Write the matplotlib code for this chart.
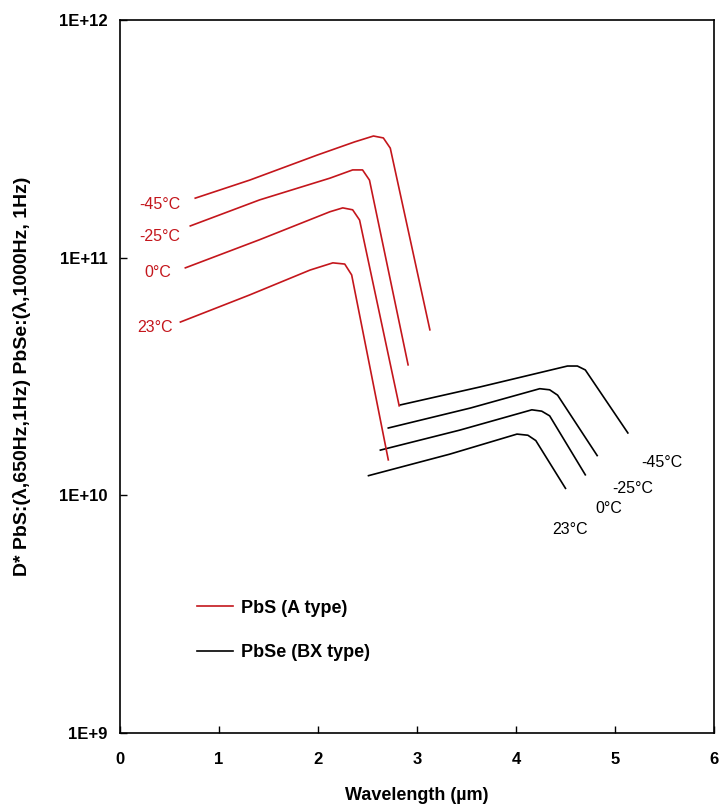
import matplotlib
matplotlib.use("Agg")
import matplotlib.pyplot as plt
from matplotlib.lines import Line2D

plt.rcParams['font.family'] = ['Liberation Sans', 'DejaVu Sans']

temps = ["-45°C", "-25°C", "0°C", "23°C"]

# PbS (A type) curves: wavelength (um), D*
pbs_x = {
    "-45°C": [0.76, 1.31, 1.99, 2.37, 2.56, 2.66, 2.73, 3.13],
    "-25°C": [0.71, 1.41, 2.12, 2.35, 2.45, 2.52, 2.91],
    "0°C":   [0.66, 1.41, 2.12, 2.25, 2.35, 2.42, 2.82],
    "23°C":  [0.61, 1.31, 1.92, 2.15, 2.27, 2.34, 2.71],
}
pbs_y = {
    "-45°C": [1.78e11, 2.12e11, 2.70e11, 3.07e11, 3.25e11, 3.19e11, 2.89e11, 4.97e10],
    "-25°C": [1.36e11, 1.75e11, 2.16e11, 2.34e11, 2.34e11, 2.12e11, 3.54e10],
    "0°C":   [9.06e10, 1.19e11, 1.56e11, 1.62e11, 1.59e11, 1.44e11, 2.38e10],
    "23°C":  [5.36e10, 6.97e10, 8.87e10, 9.51e10, 9.40e10, 8.46e10, 1.41e10],
}

# PbSe (BX type) curves
pbse_x = {
    "-45°C": [2.83, 3.64, 4.52, 4.62, 4.70, 5.13],
    "-25°C": [2.71, 3.54, 4.24, 4.34, 4.42, 4.82],
    "0°C":   [2.63, 3.43, 4.16, 4.26, 4.34, 4.70],
    "23°C":  [2.51, 3.33, 4.01, 4.12, 4.20, 4.50],
}
pbse_y = {
    "-45°C": [2.40e10, 2.86e10, 3.50e10, 3.50e10, 3.37e10, 1.83e10],
    "-25°C": [1.92e10, 2.33e10, 2.81e10, 2.78e10, 2.64e10, 1.47e10],
    "0°C":   [1.55e10, 1.88e10, 2.29e10, 2.26e10, 2.16e10, 1.22e10],
    "23°C":  [1.21e10, 1.49e10, 1.81e10, 1.79e10, 1.70e10, 1.07e10],
}

xticks = [0, 1, 2, 3, 4, 5, 6]
yticks = [1e9, 1e10, 1e11, 1e12]
ytick_labels = ["1E+9", "1E+10", "1E+11", "1E+12"]

RED = "#c4161c"
BLACK = "#000000"

fig = plt.figure(figsize=(7.26, 8.10), dpi=100)
ax = fig.add_axes([120/726, 1-733/810, 594/726, 713/810])

for t in temps:
    ax.plot(pbs_x[t], pbs_y[t], color=RED, lw=1.2)
    ax.plot(pbse_x[t], pbse_y[t], color=BLACK, lw=1.2)

ax.set_yscale("log")
ax.set_xlim(0, 6)
ax.set_ylim(1e9, 1e12)
ax.set_xticks(xticks)
ax.set_yticks(yticks)
ax.set_yticklabels(ytick_labels)
ax.minorticks_off()
ax.tick_params(direction="in", length=5, width=1, labelsize=12)
ax.tick_params(axis="y", pad=9)
ax.tick_params(axis="x", pad=14)
for lab in ax.get_xticklabels() + ax.get_yticklabels():
    lab.set_fontweight("bold")
for s in ax.spines.values():
    s.set_linewidth(1.2)

ax.set_xlabel("Wavelength (µm)", fontsize=13, fontweight="bold", labelpad=14)
ax.set_ylabel("D* PbS:(λ,650Hz,1Hz) PbSe:(λ,1000Hz, 1Hz)", fontsize=14,
              fontweight="bold", labelpad=20)

# temperature labels
red_lab_pos = [(0.40, 1.67e11), (0.40, 1.23e11), (0.38, 8.63e10), (0.35, 5.06e10)]
blk_lab_pos = [(5.47, 1.37e10), (5.18, 1.07e10), (4.94, 8.77e9), (4.55, 7.15e9)]
for t, (lx, ly) in zip(temps, red_lab_pos):
    ax.text(lx, ly, t, color=RED, fontsize=11.5, ha="center", va="center")
for t, (lx, ly) in zip(temps, blk_lab_pos):
    ax.text(lx, ly, t, color=BLACK, fontsize=11.5, ha="center", va="center")

handles = [Line2D([], [], color=RED, lw=1.2), Line2D([], [], color=BLACK, lw=1.2)]
leg = ax.legend(handles, ["PbS (A type)", "PbSe (BX type)"], frameon=False,
                loc="upper left", bbox_to_anchor=(0.1296, 0.187),
                borderpad=0, borderaxespad=0,
                handlelength=2.0, handletextpad=0.45, labelspacing=1.52,
                prop={"size": 13, "weight": "bold"})

fig.savefig("out.png", dpi=100)
